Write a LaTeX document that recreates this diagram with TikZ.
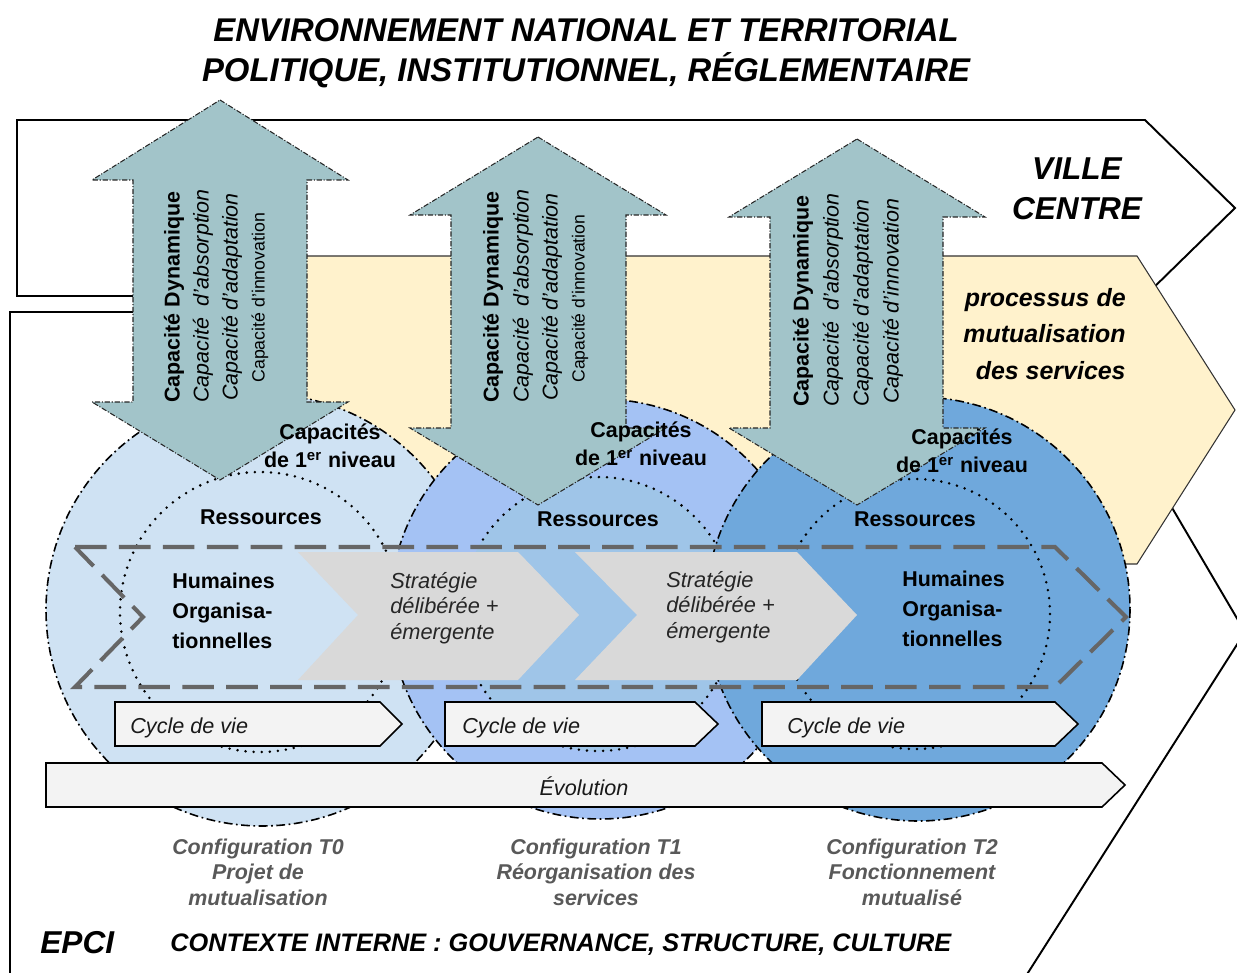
\documentclass[tikz,border=0pt]{standalone}
\usepackage{fontspec}
\setmainfont{Liberation Sans}
\definecolor{cone}{HTML}{CFE2F3}
\definecolor{ctwo}{HTML}{A4C2F4}
\definecolor{ctwoin}{HTML}{9FC5E8}
\definecolor{cthree}{HTML}{6FA8DC}
\definecolor{yel}{HTML}{FFF2CC}
\definecolor{teal}{HTML}{A2C4C9}
\definecolor{chgrey}{HTML}{D9D9D9}
\definecolor{barfill}{HTML}{F3F3F3}
\definecolor{dashgrey}{HTML}{666666}
\definecolor{cfgtext}{HTML}{595959}
\newcommand{\fsz}[2]{\fontsize{#1}{#2}\selectfont}
\begin{document}
\begin{tikzpicture}[x=0.02cm,y=-0.02cm,
  frameline/.style={draw=black,line width=1.1pt,line join=miter},
  yelshape/.style={fill=yel,draw=black!80,line width=0.6pt},
  circ/.style={draw=black,line width=0.9pt,dash pattern=on 5pt off 2pt on 1pt off 2pt},
  dotc/.style={draw=black,line width=1.6pt,dash pattern=on 0pt off 4.6pt,line cap=round},
  greych/.style={fill=chgrey},
  dashch/.style={draw=dashgrey,line width=2.3pt,dash pattern=on 18pt off 7pt},
  barshape/.style={fill=barfill,draw=black,line width=0.9pt,line join=miter},
  bigarrow/.style={fill=teal,draw=black!85,line width=0.6pt,dash pattern=on 3pt off 1pt on 0.6pt off 1pt},
  vtxt/.style={rotate=90,anchor=west,inner sep=0pt},
  blbl/.style={font=\fsz{12.2pt}{16pt}\bfseries,align=center,inner sep=0pt},
  cyc/.style={font=\fsz{12.3pt}{14pt}\itshape,text=black!90,anchor=west,inner sep=0pt},
  cfg/.style={font=\fsz{12.2pt}{14.5pt}\bfseries\itshape,text=cfgtext,align=center,inner sep=0pt}
]
\useasboundingbox (0,0) rectangle (1237,973);
\clip (0,0) rectangle (1237,973);

% title
\node[font=\fsz{18.7pt}{22.7pt}\bfseries\itshape,align=center,inner sep=0pt] (title) at (586,53)
  {ENVIRONNEMENT NATIONAL ET TERRITORIAL\\POLITIQUE, INSTITUTIONNEL, RÉGLEMENTAIRE};

% frames
\draw[frameline,fill=white] (17,120) -- (1145,120) -- (1235,208) -- (1145,296) -- (17,296) -- cycle;
\draw[frameline] (10,312) -- (1057,312) -- (1245,632) -- (1017,990) -- (10,990) -- cycle;

% yellow process arrow
\draw[yelshape] (250,256) -- (1137,256) -- (1235,410) -- (1137,564) -- (250,564) -- cycle;

% circles
\draw[circ,fill=cone] (262,610) circle[radius=216];
\draw[circ,fill=ctwo] (600,609) circle[radius=210];
\fill[ctwoin] (598,614) circle[radius=137];
\draw[circ,fill=cthree] (918,609) circle[radius=212];
\draw[dotc] (260,612) circle[radius=140];
\draw[dotc] (598,614) circle[radius=137];
\draw[dotc] (915,614) circle[radius=135];

% grey chevrons
\fill[greych] (298,552) -- (518,552) -- (579,615) -- (518,680) -- (298,680) -- (358,615) -- cycle;
\fill[greych] (575,552) -- (797,552) -- (857,615) -- (797,680) -- (575,680) -- (637,615) -- cycle;

% dashed chevron
\draw[dashch] (75,547) -- (1055,547) -- (1126,617) -- (1055,687) -- (75,687) -- (143,617) -- cycle;

% cycle de vie bars
\draw[barshape] (115,702) -- (380,702) -- (402,724) -- (380,746) -- (115,746) -- cycle;
\draw[barshape] (445,702) -- (695,702) -- (718,724) -- (695,746) -- (445,746) -- cycle;
\draw[barshape] (762,702) -- (1055,702) -- (1078,724) -- (1055,746) -- (762,746) -- cycle;
\node[cyc] (cyc1) at (130,728) {Cycle de vie};
\node[cyc] (cyc2) at (462,728) {Cycle de vie};
\node[cyc] (cyc3) at (787,728) {Cycle de vie};

% evolution bar
\draw[barshape] (46,763) -- (1102,763) -- (1125,785) -- (1102,807) -- (46,807) -- cycle;
\node[font=\fsz{12.3pt}{14pt}\itshape,text=black!90,inner sep=0pt] (evol) at (584,786) {Évolution};

% big double arrows
\draw[bigarrow] (220,100) -- (348,180) -- (307,180) -- (307,402) -- (348,402) -- (220,480) -- (92,402) -- (133,402) -- (133,180) -- (92,180) -- cycle;
\draw[bigarrow] (538,137) -- (666,215) -- (626,215) -- (626,428) -- (666,428) -- (538,505) -- (410,428) -- (451,428) -- (451,215) -- (410,215) -- cycle;
\draw[bigarrow] (857,139) -- (985,217) -- (943,217) -- (943,428) -- (985,428) -- (857,505) -- (729,428) -- (770,428) -- (770,217) -- (729,217) -- cycle;

% arrow texts
\node[vtxt,font=\fsz{12.2pt}{14pt}\bfseries] (a1l1) at (174,403) {Capacité Dynamique};
\node[vtxt,font=\fsz{12.2pt}{14pt}\itshape] (a1l2) at (203,403) {Capacité\ \ d'absorption};
\node[vtxt,font=\fsz{12.2pt}{14pt}\itshape] (a1l3) at (232,401) {Capacité d'adaptation};
\node[vtxt,font=\fsz{10.1pt}{12pt}] (a1l4) at (260,383) {Capacité d'innovation};

\node[vtxt,font=\fsz{12.2pt}{14pt}\bfseries] (a2l1) at (493,403) {Capacité Dynamique};
\node[vtxt,font=\fsz{12.2pt}{14pt}\itshape] (a2l2) at (523,403) {Capacité\ \ d'absorption};
\node[vtxt,font=\fsz{12.2pt}{14pt}\itshape] (a2l3) at (552,401) {Capacité d'adaptation};
\node[vtxt,font=\fsz{10pt}{12pt}] (a2l4) at (580,383) {Capacité d'innovation};

\node[vtxt,font=\fsz{12.2pt}{14pt}\bfseries] (a3l1) at (803,407) {Capacité Dynamique};
\node[vtxt,font=\fsz{12.2pt}{14pt}\itshape] (a3l2) at (833,407) {Capacité\ \ d'absorption};
\node[vtxt,font=\fsz{12.2pt}{14pt}\itshape] (a3l3) at (863,407) {Capacité d'adaptation};
\node[vtxt,font=\fsz{12.2pt}{14pt}\itshape] (a3l4) at (893,404) {Capacité d'innovation};

% capacites de 1er niveau
\node[blbl] (cap1) at (330,446) {Capacités\\de 1\textsuperscript{er} niveau};
\node[blbl] (cap2) at (641,444) {Capacités\\de 1\textsuperscript{er} niveau};
\node[blbl] (cap3) at (962,451) {Capacités\\de 1\textsuperscript{er} niveau};

% ressources
\node[blbl] (res1) at (261,517) {Ressources};
\node[blbl] (res2) at (598,519) {Ressources};
\node[blbl] (res3) at (915,519) {Ressources};

% humaines
\node[font=\fsz{12.2pt}{17pt}\bfseries,align=left,anchor=west,inner sep=0pt] (hum1) at (172,611) {Humaines\\Organisa-\\tionnelles};
\node[font=\fsz{12.2pt}{17pt}\bfseries,align=left,anchor=west,inner sep=0pt] (hum2) at (902,609) {Humaines\\Organisa-\\tionnelles};

% strategie
\node[font=\fsz{12.4pt}{14.5pt}\itshape,text=black!85,align=left,anchor=west,inner sep=0pt] (str1) at (390,608) {Stratégie\\délibérée +\\émergente};
\node[font=\fsz{12.4pt}{14.5pt}\itshape,text=black!85,align=left,anchor=west,inner sep=0pt] (str2) at (666,607) {Stratégie\\délibérée +\\émergente};

% ville centre and processus
\node[font=\fsz{18pt}{22.7pt}\bfseries\itshape,align=center,inner sep=0pt] (ville) at (1077,189) {VILLE\\CENTRE};
\node[font=\fsz{14.2pt}{20.7pt}\bfseries\itshape,align=right,anchor=east,inner sep=0pt] (proc) at (1126,334) {processus de\\mutualisation\\des services};

% configurations
\node[cfg] (cfg0) at (258,872) {Configuration T0\\Projet de\\mutualisation};
\node[cfg] (cfg1) at (596,872) {Configuration T1\\Réorganisation des\\services};
\node[cfg] (cfg2) at (912,872) {Configuration T2\\Fonctionnement\\mutualisé};

% bottom texts
\node[font=\fsz{18pt}{20pt}\bfseries\itshape,anchor=west,inner sep=0pt] (epci) at (40,943) {EPCI};
\node[font=\fsz{14.4pt}{16pt}\bfseries\itshape,anchor=west,inner sep=0pt] (ctx) at (170,945) {CONTEXTE INTERNE : GOUVERNANCE, STRUCTURE, CULTURE};
\end{tikzpicture}
\end{document}
